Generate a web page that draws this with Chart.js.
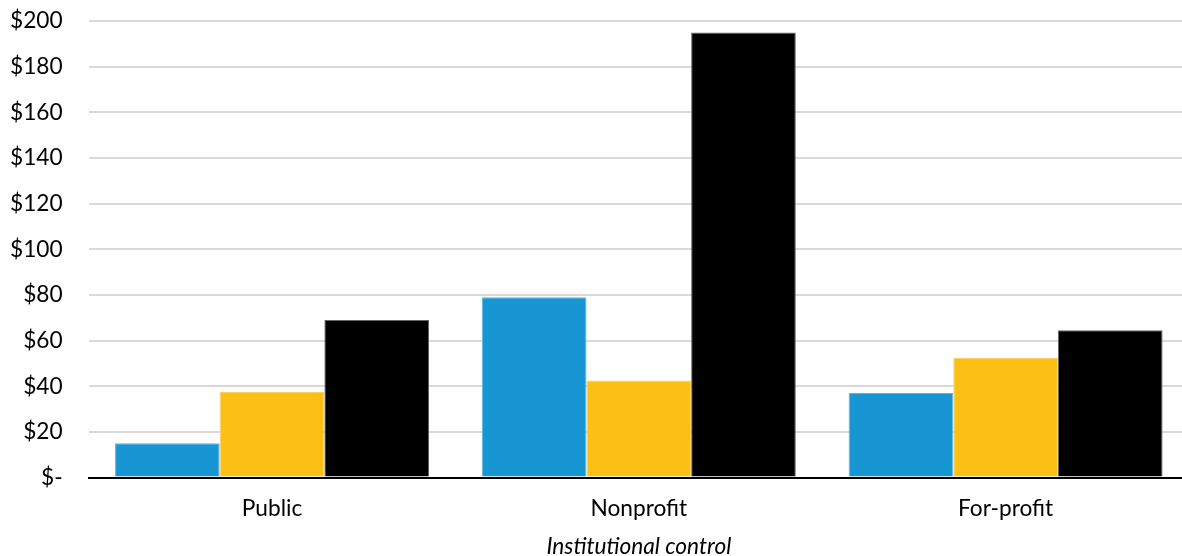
<!DOCTYPE html>
<html>
<head>
<meta charset="utf-8">
<script src="https://cdn.jsdelivr.net/npm/chart.js@4/dist/chart.umd.min.js"></script>
<style>
  html, body { margin: 0; padding: 0; background: #ffffff; overflow: hidden; }
  #wrap { width: 1182px; height: 556px; position: relative; overflow: hidden; }
</style>
</head>
<body>
<div id="wrap"><canvas id="chart" width="1189" height="556"></canvas></div>
<script>
// Categories and series values (dollars)
const categories = ['Public', 'Nonprofit', 'For-profit'];
const seriesBlue = [15, 79, 37];
const seriesYellow = [37.5, 42.5, 52.5];
const seriesBlack = [69, 195, 64.5];
const yTicks = [0, 20, 40, 60, 80, 100, 120, 140, 160, 180, 200];
const yTickLabels = ['$-', '$20', '$40', '$60', '$80', '$100', '$120', '$140', '$160', '$180', '$200'];
const xTitle = 'Institutional control';

const font = "Lato, 'Open Sans', sans-serif";
const fontSize = 22.7;

new Chart(document.getElementById('chart'), {
  type: 'bar',
  data: {
    labels: categories,
    datasets: [
      { data: seriesBlue, backgroundColor: '#1896d3', borderColor: '#5fb5e0', borderWidth: 1 },
      { data: seriesYellow, backgroundColor: '#fcbf16', borderColor: '#fcd060', borderWidth: 1 },
      { data: seriesBlack, backgroundColor: '#000000', borderColor: '#666666', borderWidth: 1 }
    ]
  },
  options: {
    responsive: false,
    animation: false,
    layout: { padding: { top: 0, right: 0, left: -16, bottom: -4 } },
    plugins: { legend: { display: false }, tooltip: { enabled: false } },
    datasets: { bar: { barPercentage: 1.0, categoryPercentage: 0.856 } },
    scales: {
      x: {
        // plot area runs out to the right edge
        afterFit: (axis) => { axis.paddingLeft = 0; axis.paddingRight = 0; },
        grid: { display: false, drawTicks: false },
        border: { display: true, color: '#000000', width: 2 },
        ticks: { color: '#000000', font: { family: font, size: fontSize }, padding: 18 },
        title: { display: true, text: xTitle, color: '#000000', font: { family: font, size: fontSize, style: 'italic' }, padding: { top: -8, bottom: 0 } }
      },
      y: {
        min: 0,
        max: 200,
        afterBuildTicks: (axis) => { axis.ticks = yTicks.map(v => ({ value: v })); },
        // keep the wide label gap from pushing the plot area down
        afterFit: (axis) => { axis.paddingTop = 21; },
        grid: { color: '#d9d9d9', lineWidth: 2, drawTicks: false },
        border: { display: false },
        ticks: {
          color: '#000000',
          font: { family: font, size: fontSize },
          padding: 26,
          callback: (value) => yTickLabels[yTicks.indexOf(value)]
        }
      }
    }
  }
});
</script>
</body>
</html>
